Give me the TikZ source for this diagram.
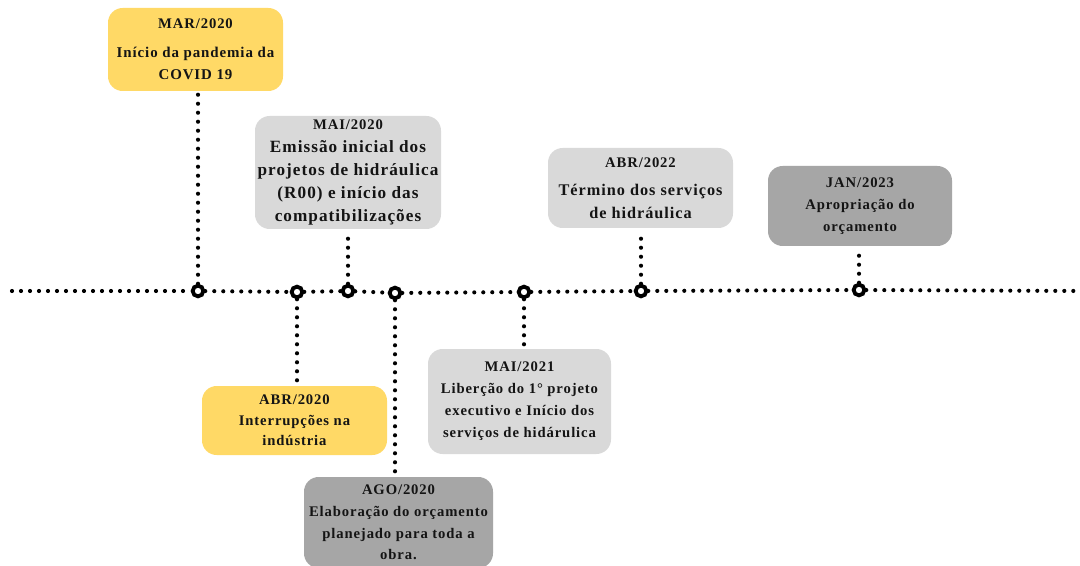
\documentclass[tikz,border=0pt]{standalone}
\usepackage{fontspec}
\usetikzlibrary{backgrounds}
\setmainfont{Liberation Serif}
\newfontfamily\eventfont{Liberation Serif}[LetterSpace=6]
\definecolor{evyellow}{RGB}{255,217,102}
\definecolor{evlight}{RGB}{217,217,217}
\definecolor{evdark}{RGB}{166,166,166}
\definecolor{evtext}{RGB}{20,20,20}
\begin{document}
\begin{tikzpicture}[x=0.75pt,y=-0.75pt,
  event/.style={rounded corners=11pt, inner sep=0pt, align=center, text=evtext},
  evfont/.style 2 args={font=\eventfont\bfseries\fontsize{#1}{#2}\selectfont},
  dotline/.style={line width=3.1pt, line cap=round, dash pattern=on 0pt off 6.75pt},
  marker/.style={circle, draw=black, fill=white, line width=2.9pt, minimum size=8pt, inner sep=0pt}]
\useasboundingbox (0,0) rectangle (1080,566);
\newcommand{\evhead}[1]{{\fontsize{11}{16}\selectfont #1}}

% timeline ends
\coordinate (L) at (12,291);
\coordinate (R) at (1085,291);

% milestone markers on the timeline
\node[marker] (c1) at (198,291) {};
\node[marker] (c2) at (297,292) {};
\node[marker] (c3) at (348,291) {};
\node[marker] (c4) at (395,293) {};
\node[marker] (c5) at (524,292) {};
\node[marker] (c6) at (641,291) {};
\node[marker] (c7) at (859,290) {};

% event boxes
\node[event, evfont={11.2}{16.5}, fill=evyellow, minimum width=131.25pt, minimum height=62.25pt] (b1) at (195.5,49.5)
  {\evhead{MAR/2020}\\[5pt]Início da pandemia da\\COVID 19};
\node[event, evfont={12.9}{17.2}, fill=evlight, minimum width=139.5pt, minimum height=84.75pt] (b2) at (348,172.5)
  {\evhead{MAI/2020}\\Emissão inicial dos\\projetos de hidráulica\\(R00) e início das\\compatibilizações};
\node[event, evfont={12.2}{17}, fill=evlight, minimum width=138.75pt, minimum height=60pt] (b3) at (640.5,188)
  {\evhead{ABR/2022}\\[4pt]Término dos serviços\\de hidráulica};
\node[event, evfont={11}{16.5}, fill=evdark, minimum width=138pt, minimum height=60pt] (b4) at (860,206)
  {\evhead{JAN/2023}\\Apropriação do\\orçamento};
\node[event, evfont={11}{15.5}, fill=evyellow, minimum width=138.75pt, minimum height=51.75pt] (b5) at (294.5,420.5)
  {\evhead{ABR/2020}\\Interrupções na\\indústria};
\node[event, evfont={11}{16.5}, fill=evlight, minimum width=137.25pt, minimum height=78.75pt] (b6) at (519.5,401.5)
  {\evhead{MAI/2021}\\Liberção do 1° projeto\\executivo e Início dos\\serviços de hidárulica};
\node[event, evfont={11}{16.3}, fill=evdark, minimum width=141.75pt, minimum height=68.25pt] (b7) at (398.5,522.5)
  {\evhead{AGO/2020}\\Elaboração do orçamento\\planejado para toda a\\obra.};

% dotted timeline and connectors, kept underneath the markers
\begin{scope}[on background layer]
\fill[white] (0,0) rectangle (1080,566);
\draw[dotline] (L) -- (c1) -- (c2) -- (c3) -- (c4) -- (c5) -- (c6) -- (c7) -- (R);
\draw[dotline, shorten >=2pt] (c1) -- (c1 |- b1.south);
\draw[dotline, shorten >=4pt] (c3) -- (c3 |- b2.south);
\draw[dotline, shorten >=3pt] (c6) -- (c6 |- b3.south);
\draw[dotline, shorten >=3pt] (c7) -- (c7 |- b4.south);
\draw[dotline, shorten >=1pt] (c2) -- (c2 |- b5.north);
\draw[dotline, shorten >=2pt] (c5) -- (c5 |- b6.north);
\draw[dotline, shorten >=1pt] (c4) -- (c4 |- b7.north);
\end{scope}
\end{tikzpicture}
\end{document}
